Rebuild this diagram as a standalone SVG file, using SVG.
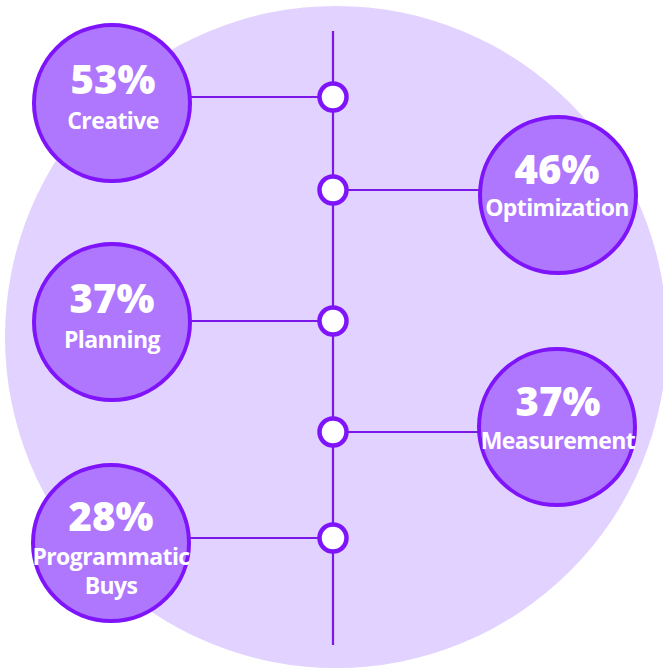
<svg xmlns="http://www.w3.org/2000/svg" width="663" height="670" viewBox="0 0 663 670">
<style>
.big{fill:#AE77FE;stroke:#7F14FB;stroke-width:4}
.dot{fill:#FFFFFF;stroke:#7F14FB;stroke-width:4.5}
.ln{stroke:#7B17E8;stroke-width:2.2;fill:none}
.num{font-family:"Open Sans","DejaVu Sans",sans-serif;font-weight:800;font-size:40px;fill:#FFFFFF;text-anchor:middle}
.lbl{font-family:"Open Sans","DejaVu Sans",sans-serif;font-weight:700;font-size:23px;letter-spacing:-0.6px;fill:#FFFFFF;text-anchor:middle}
</style>
<rect width="663" height="670" fill="#FFFFFF"/>
<circle cx="336" cy="337" r="331" fill="#E2D2FF"/>
<g id="connectors">
<line class="ln" x1="333" y1="31" x2="333" y2="645"/>
<line class="ln" x1="190" y1="97" x2="333" y2="97"/>
<line class="ln" x1="333" y1="190" x2="480" y2="190"/>
<line class="ln" x1="190" y1="321" x2="333" y2="321"/>
<line class="ln" x1="333" y1="432" x2="480" y2="432"/>
<line class="ln" x1="189" y1="538" x2="333" y2="538"/>
</g>
<g id="dot1"><circle class="dot" cx="333" cy="97" r="13.5"/></g>
<g id="dot2"><circle class="dot" cx="333" cy="190" r="13.5"/></g>
<g id="dot3"><circle class="dot" cx="333" cy="321" r="13.5"/></g>
<g id="dot4"><circle class="dot" cx="333" cy="432" r="13.5"/></g>
<g id="dot5"><circle class="dot" cx="333" cy="538" r="13.5"/></g>
<g id="creative">
<circle class="big" cx="112" cy="103" r="78"/>
<text class="num" x="113" y="94">53%</text>
<text class="lbl" x="113" y="129">Creative</text>
</g>
<g id="optimization">
<circle class="big" cx="558" cy="195" r="78"/>
<text class="num" x="557" y="184">46%</text>
<text class="lbl" x="557" y="216">Optimization</text>
</g>
<g id="planning">
<circle class="big" cx="112" cy="322" r="78"/>
<text class="num" x="112" y="313">37%</text>
<text class="lbl" x="112" y="348">Planning</text>
</g>
<g id="measurement">
<circle class="big" cx="557" cy="427" r="78"/>
<text class="num" x="558" y="416">37%</text>
<text class="lbl" x="558" y="449">Measurement</text>
</g>
<g id="programmatic">
<circle class="big" cx="111" cy="543" r="78"/>
<text class="num" x="111" y="531">28%</text>
<text class="lbl" x="111" y="565">Programmatic</text>
<text class="lbl" x="111" y="594">Buys</text>
</g>
</svg>
